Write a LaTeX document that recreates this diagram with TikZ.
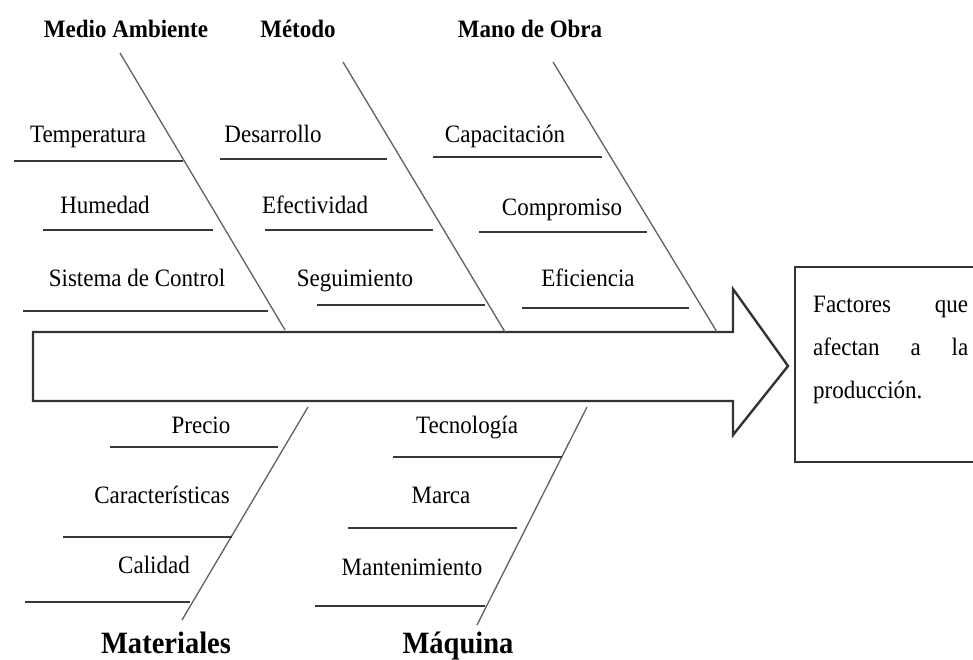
\documentclass[tikz,border=0pt]{standalone}
\usepackage{fontspec}
\setmainfont{Liberation Serif}[FakeStretch=0.92]
\begin{document}
\begin{tikzpicture}[x=1pt,y=-1pt,
  bone/.style={draw=black!62,line width=1.3pt},
  subline/.style={draw=black!78,line width=1.6pt},
  arrowline/.style={draw=black!80,line width=2.4pt,line join=miter},
  lbl/.style={anchor=base,inner sep=0pt,font=\fontsize{25}{30}\selectfont},
  head/.style={anchor=base,inner sep=0pt,font=\bfseries\fontsize{25}{30}\selectfont},
  bighead/.style={anchor=base,inner sep=0pt,font=\bfseries\fontsize{31}{36}\selectfont}]
\useasboundingbox[fill=white] (0,0) rectangle (973,660);

% main arrow
\draw[arrowline] (33,332) -- (733,332) -- (733,289) -- (788,366) -- (733,435) -- (733,401) -- (33,401) -- cycle;

% effect box
\draw[arrowline,line width=2pt] (795,267) rectangle (985,462);
\node (effect) [anchor=north west,inner sep=0pt,text width=155pt,align=left,
  font=\fontsize{25}{43}\selectfont] at (813,296)
  {Factores\hfill que\\afectan\hfill a\hfill la\\producción.};

% headings
\node (ma) [head] at (126,38) {Medio Ambiente};
\node (me) [head] at (298,38) {Método};
\node (mo) [head] at (530,38) {Mano de Obra};
\node (mat) [bighead] at (166,653) {Materiales};
\node (maq) [bighead] at (458,653) {Máquina};

% bones
\draw[bone] (120,53) -- (285,330);
\draw[bone] (343,62) -- (505,332);
\draw[bone] (553,62) -- (717,332);
\draw[bone] (308,407) -- (182,620);
\draw[bone] (587,407) -- (477,625);

% Medio Ambiente
\node (t1) [lbl] at (88,143) {Temperatura};
\draw[subline] (14,161) -- (183,161);
\node (t2) [lbl] at (105,214) {Humedad};
\draw[subline] (43,230) -- (213,230);
\node (t3) [lbl] at (137,286) {Sistema de Control};
\draw[subline] (23,311) -- (268,311);

% Metodo
\node (m1) [lbl] at (273,143) {Desarrollo};
\draw[subline] (220,159) -- (387,159);
\node (m2) [lbl] at (315,214) {Efectividad};
\draw[subline] (265,230) -- (433,230);
\node (m3) [lbl] at (355,286) {Seguimiento};
\draw[subline] (317,305) -- (485,305);

% Mano de Obra
\node (o1) [lbl] at (505,143) {Capacitación};
\draw[subline] (433,157) -- (602,157);
\node (o2) [lbl] at (562,215) {Compromiso};
\draw[subline] (479,232) -- (647,232);
\node (o3) [lbl] at (588,286) {Eficiencia};
\draw[subline] (522,308) -- (689,308);

% Materiales
\node (a1) [lbl] at (201,433) {Precio};
\draw[subline] (110,447) -- (278,447);
\node (a2) [lbl] at (162,503) {Características};
\draw[subline] (63,537) -- (232,537);
\node (a3) [lbl] at (154,573) {Calidad};
\draw[subline] (25,602) -- (190,602);

% Maquina
\node (q1) [lbl] at (467,433) {Tecnología};
\draw[subline] (393,457) -- (562,457);
\node (q2) [lbl] at (441,503) {Marca};
\draw[subline] (348,528) -- (517,528);
\node (q3) [lbl] at (412,575) {Mantenimiento};
\draw[subline] (315,606) -- (485,606);
\end{tikzpicture}
\end{document}
